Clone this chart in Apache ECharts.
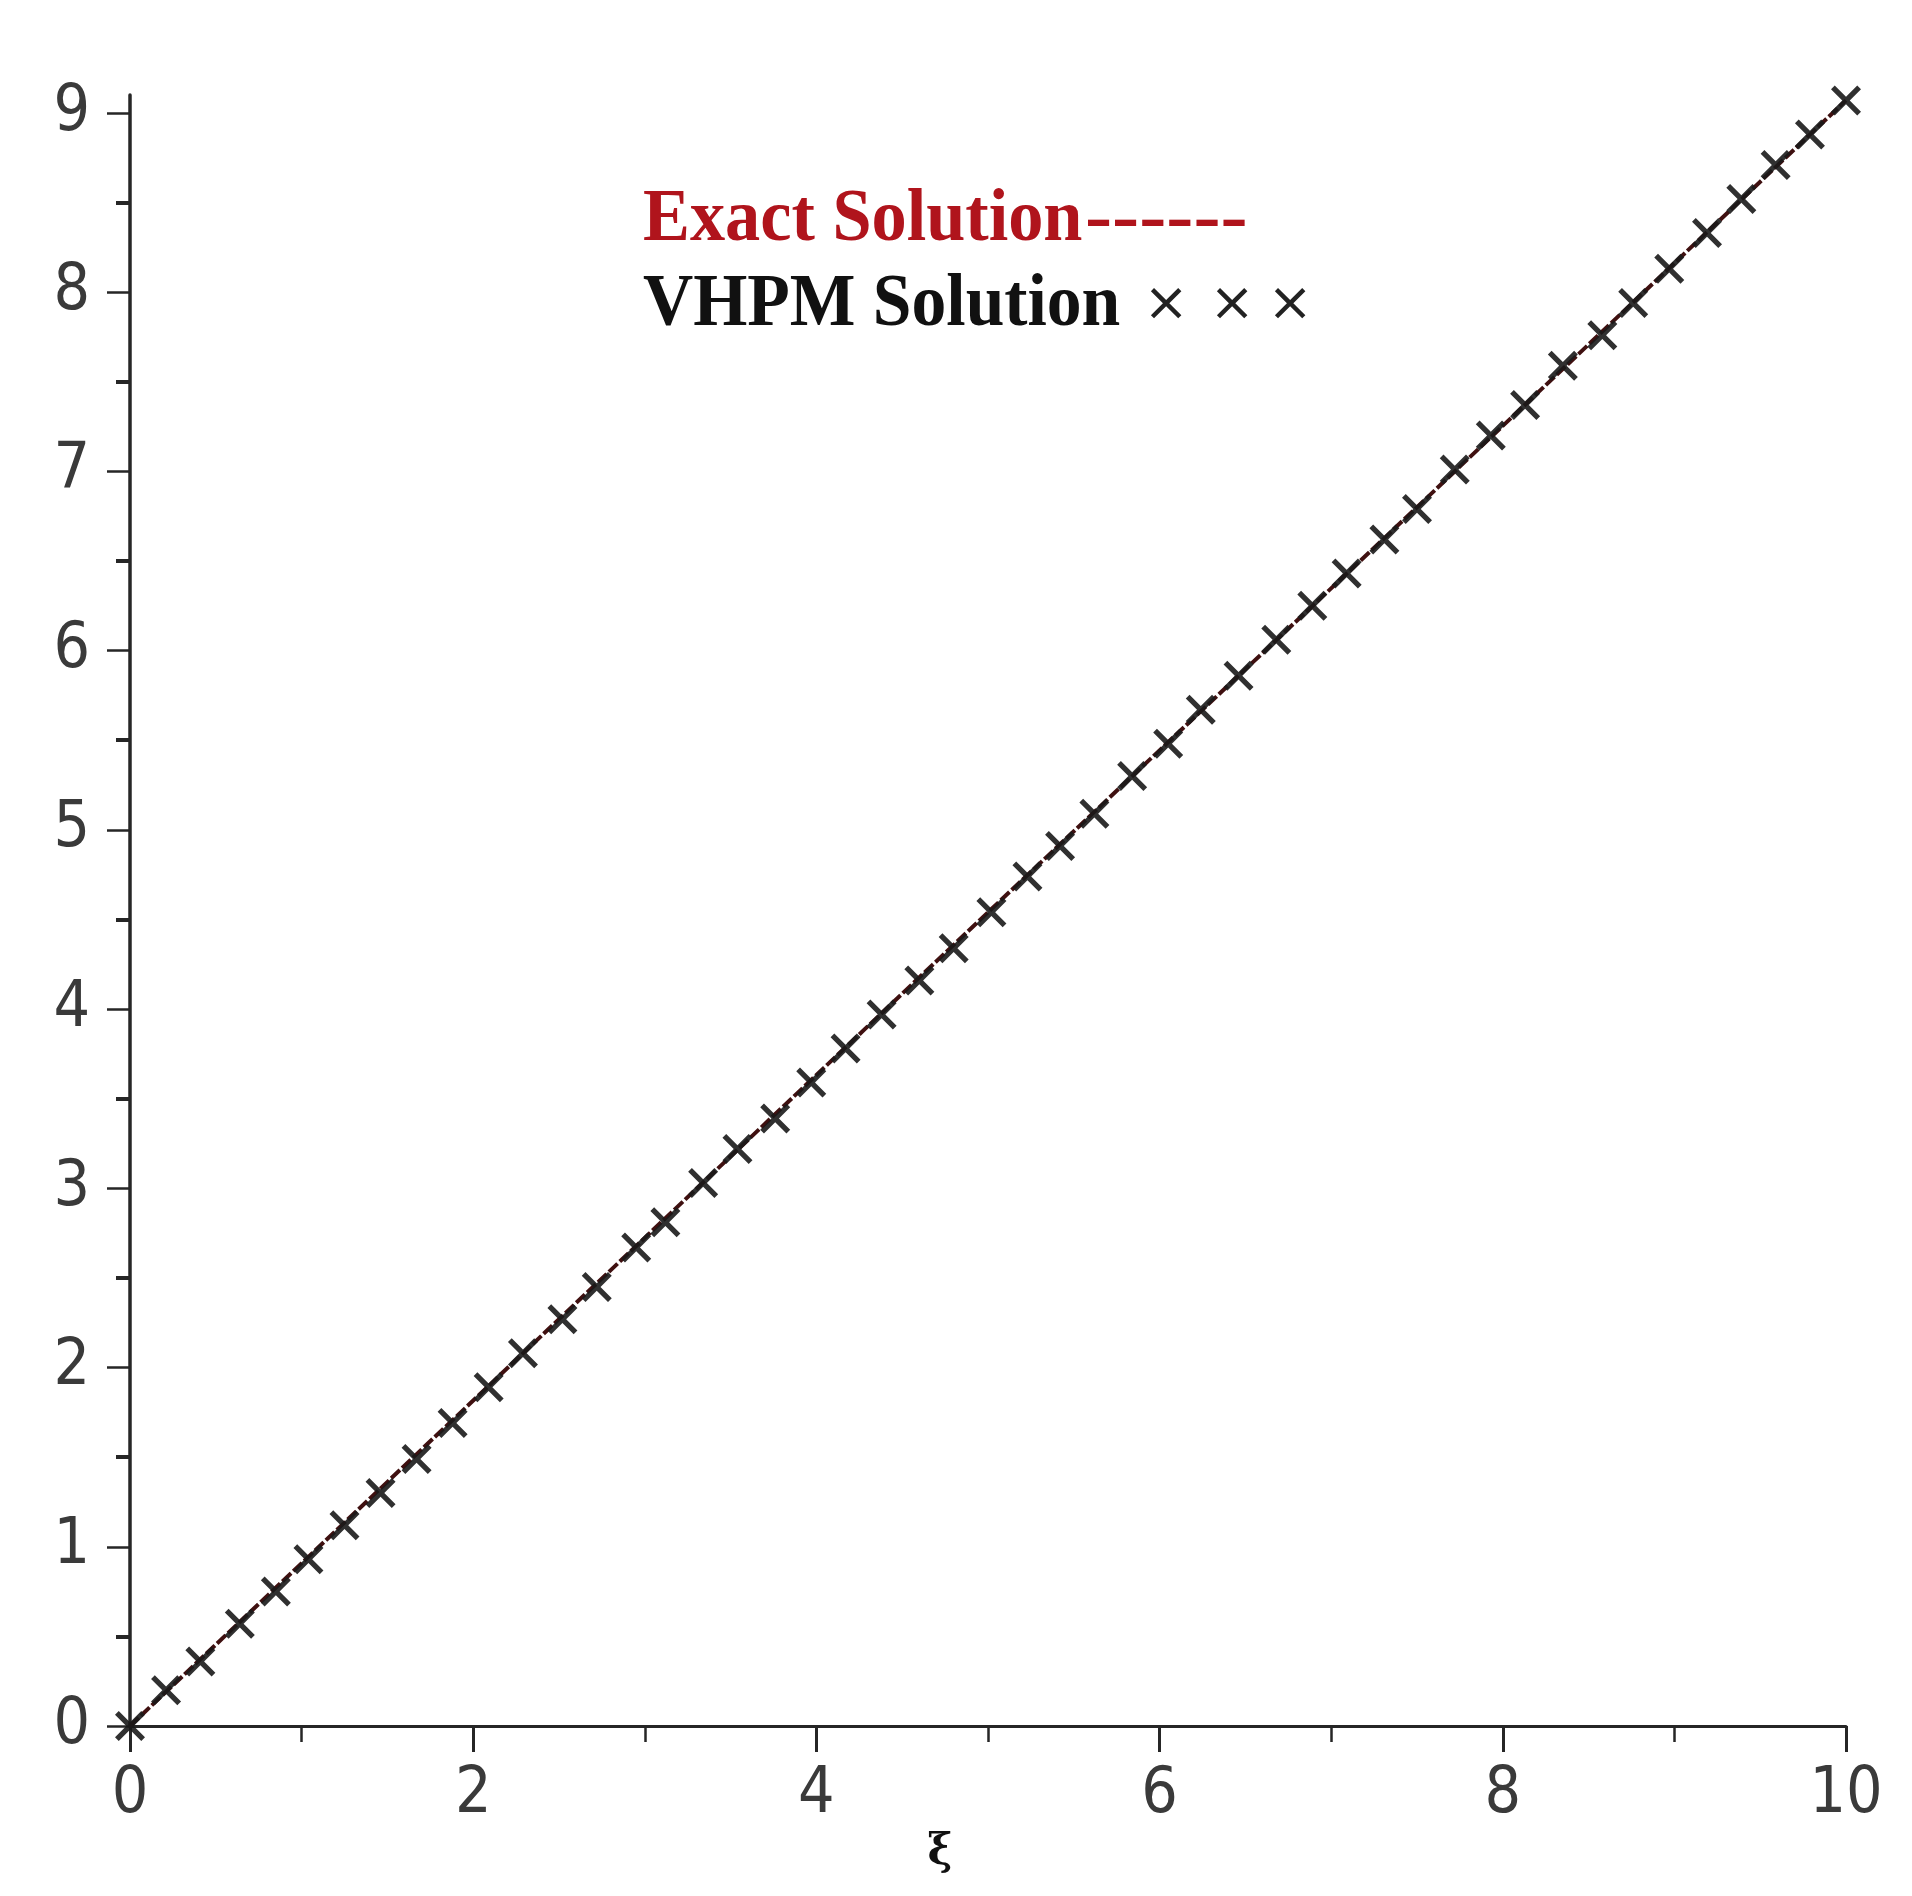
<!DOCTYPE html>
<html><head><meta charset="utf-8">
<script src="https://cdn.jsdelivr.net/npm/echarts@6/dist/echarts.min.js"></script>
<style>html,body{margin:0;padding:0;background:#fff}#c{width:1912px;height:1896px}</style>
</head><body><div id="c"></div><script>
// VHPM solution points
const vhpmX = [0, 0.21, 0.41, 0.64, 0.85, 1.04, 1.25, 1.46, 1.67, 1.88, 2.09, 2.29, 2.52, 2.72, 2.95, 3.12, 3.34, 3.54, 3.76, 3.97, 4.17, 4.38, 4.60, 4.80, 5.02, 5.23, 5.42, 5.62, 5.84, 6.05, 6.24, 6.46, 6.68, 6.89, 7.09, 7.31, 7.50, 7.72, 7.93, 8.13, 8.35, 8.58, 8.76, 8.97, 9.19, 9.39, 9.59, 9.79, 10.0];
const vhpmY = [0, 0.20, 0.36, 0.57, 0.75, 0.93, 1.12, 1.30, 1.49, 1.69, 1.89, 2.08, 2.27, 2.45, 2.67, 2.81, 3.03, 3.22, 3.39, 3.59, 3.78, 3.97, 4.16, 4.34, 4.54, 4.74, 4.91, 5.09, 5.30, 5.48, 5.67, 5.86, 6.06, 6.25, 6.43, 6.62, 6.79, 7.01, 7.20, 7.37, 7.59, 7.76, 7.94, 8.13, 8.33, 8.52, 8.71, 8.88, 9.07];
// Exact solution (straight line)
const exactX = [0, 2.5, 5, 7.5, 10];
const exactY = [0, 2.27, 4.54, 6.80, 9.07];
// Axis ticks
const yMajorTicks = [0, 1, 2, 3, 4, 5, 6, 7, 8, 9];
const yMinorTicks = [0.5, 1.5, 2.5, 3.5, 4.5, 5.5, 6.5, 7.5, 8.5];
const legendTexts = ['Exact Solution', '------', 'VHPM Solution'];
const xName = 'ξ';

const chart = echarts.init(document.getElementById('c'), null, {renderer: 'canvas'});
const axisColor = '#262626';
const tickFont = "'Liberation Sans Narrow', 'DejaVu Sans Condensed', 'Roboto Condensed', 'Noto Sans', sans-serif";
const crossPath = 'path://M2.5,0 L10,7.5 L17.5,0 L20,2.5 L12.5,10 L20,17.5 L17.5,20 L10,12.5 L2.5,20 L0,17.5 L7.5,10 L0,2.5 Z';

chart.setOption({
  backgroundColor: '#fff',
  animation: false,
  grid: {left: 130, right: 66, top: 95, bottom: 170, containLabel: false},
  xAxis: {
    type: 'value', min: 0, max: 10, interval: 2,
    name: xName, nameLocation: 'middle', nameGap: 86,
    nameTextStyle: {fontSize: 42, fontWeight: 'bold', color: '#111', fontFamily: 'DejaVu Serif', padding: [0, 96, 0, 0]},
    axisLine: {show: true, onZero: false, lineStyle: {color: axisColor, width: 3}},
    axisTick: {show: true, inside: false, length: 26, lineStyle: {color: axisColor, width: 3}},
    minorTick: {show: true, splitNumber: 2, length: 16, lineStyle: {color: axisColor, width: 2.5}},
    axisLabel: {fontSize: 64, color: '#3a3a3a', margin: 37, fontFamily: tickFont},
    splitLine: {show: false}, minorSplitLine: {show: false}
  },
  yAxis: [{
    type: 'value', min: 0, max: 9.1,
    axisLine: {show: true, onZero: false, lineStyle: {color: axisColor, width: 3.5}},
    axisTick: {show: true, inside: false, length: 23, customValues: yMajorTicks, lineStyle: {color: axisColor, width: 2.5}},
    axisLabel: {fontSize: 64, color: '#3a3a3a', margin: 40, fontFamily: tickFont, customValues: yMajorTicks},
    splitLine: {show: false}
  }, {
    type: 'value', min: 0, max: 9.1, position: 'left',
    axisLine: {show: false},
    axisTick: {show: true, inside: false, length: 14, customValues: yMinorTicks, lineStyle: {color: axisColor, width: 4}},
    axisLabel: {show: false},
    splitLine: {show: false}
  }],
  series: [{
    name: 'Exact Solution', type: 'line', yAxisIndex: 0,
    data: exactX.map((x, i) => [x, exactY[i]]),
    showSymbol: false, symbol: 'none',
    lineStyle: {color: '#3f1010', width: 4, type: [12, 3]},
    z: 2
  }, {
    name: 'VHPM Solution', type: 'scatter', yAxisIndex: 0,
    data: vhpmX.map((x, i) => [x, vhpmY[i]]),
    symbol: crossPath, symbolSize: 30, clip: false,
    itemStyle: {color: '#1a1a1a', opacity: 0.9},
    z: 3
  }],
  graphic: [
    {type: 'text', x: 643, y: 221, scaleX: 0.95, z: 10,
     style: {text: legendTexts[0], fontFamily: 'Liberation Serif', fontWeight: 'bold', fontSize: 74, fill: '#b0141c', align: 'left', verticalAlign: 'middle'}},
    {type: 'text', x: 1085, y: 221, scaleX: 1.1, z: 10,
     style: {text: legendTexts[1], fontFamily: 'Liberation Serif', fontWeight: 'bold', fontSize: 74, fill: '#b0141c', align: 'left', verticalAlign: 'middle'}},
    {type: 'text', x: 643, y: 306, scaleX: 0.94, z: 10,
     style: {text: legendTexts[2], fontFamily: 'Liberation Serif', fontWeight: 'bold', fontSize: 74, fill: '#111', align: 'left', verticalAlign: 'middle'}},
    {type: 'text', x: 1166, y: 306, z: 10, style: {text: '×', fontFamily: 'DejaVu Sans', fontSize: 54, fill: '#222', align: 'center', verticalAlign: 'middle'}},
    {type: 'text', x: 1232, y: 306, z: 10, style: {text: '×', fontFamily: 'DejaVu Sans', fontSize: 54, fill: '#222', align: 'center', verticalAlign: 'middle'}},
    {type: 'text', x: 1290, y: 306, z: 10, style: {text: '×', fontFamily: 'DejaVu Sans', fontSize: 54, fill: '#222', align: 'center', verticalAlign: 'middle'}}
  ]
});
</script></body></html>
